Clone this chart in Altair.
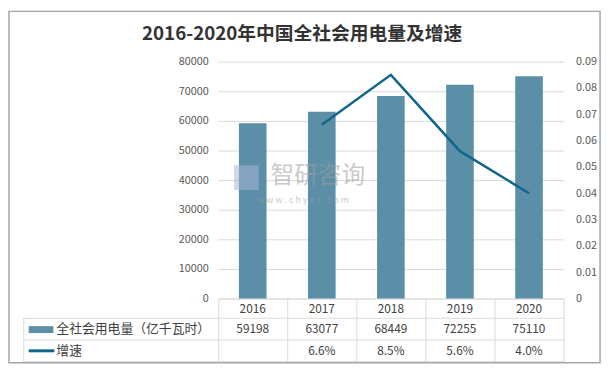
import altair as alt
import pandas as pd

years = ["2016", "2017", "2018", "2019", "2020"]
consumption = [59198, 63077, 68449, 72255, 75110]
growth = [None, 0.066, 0.085, 0.056, 0.040]
title_text = "2016-2020年中国全社会用电量及增速"
bar_label = "全社会用电量（亿千瓦时）"
line_label = "增速"
left_ticks = [0, 10000, 20000, 30000, 40000, 50000, 60000, 70000, 80000]
right_ticks = [0, 0.01, 0.02, 0.03, 0.04, 0.05, 0.06, 0.07, 0.08, 0.09]

BAR = "#5b8fa7"
LINE = "#10658a"
GRID = "#d9d9d9"
TXT = "#404040"
FONT = "Noto Sans CJK SC"

df = pd.DataFrame({"year": years, "consumption": consumption, "growth": growth})
one = pd.DataFrame({"k": [0]})

xenc = alt.X("year:N", sort=years,
             scale=alt.Scale(paddingInner=0, paddingOuter=0),
             axis=alt.Axis(title=None, labels=False, domainColor=GRID,
                           ticks=True, tickBand="extent", tickSize=64,
                           tickColor=GRID, grid=False))

bars = alt.Chart(df).mark_bar(color=BAR, size=28).encode(
    x=xenc,
    y=alt.Y("consumption:Q", scale=alt.Scale(domain=[0, 80000]),
            axis=alt.Axis(title=None, values=left_ticks, format="d", grid=True, gridColor=GRID,
                          domain=False, ticks=False, labelPadding=10,
                          labelColor="#595959", labelFontSize=11, labelFont=FONT)),
)

line = alt.Chart(df).transform_filter("datum.growth != null").mark_line(
    color=LINE, strokeWidth=2.5).encode(
    x=alt.X("year:N", sort=years),
    y=alt.Y("growth:Q", scale=alt.Scale(domain=[0, 0.09]),
            axis=alt.Axis(title=None, orient="right", values=right_ticks, grid=False,
                          domain=False, ticks=False, labelPadding=12,
                          labelExpr="datum.value == 0 ? '0' : format(datum.value, '.2f')",
                          labelColor="#595959", labelFontSize=11, labelFont=FONT)),
)

# table text rows
year_txt = alt.Chart(df).mark_text(font=FONT, fontSize=12, color=TXT, baseline="middle").encode(
    x=alt.X("year:N", sort=years), y=alt.value(251), text="year:N")
val_txt = alt.Chart(df).mark_text(font=FONT, fontSize=12, color=TXT, baseline="middle").encode(
    x=alt.X("year:N", sort=years), y=alt.value(271), text=alt.Text("consumption:Q", format="d"))
pct_txt = alt.Chart(df).transform_filter("datum.growth != null").mark_text(
    font=FONT, fontSize=12, color=TXT, baseline="middle").encode(
    x=alt.X("year:N", sort=years), y=alt.value(293), text=alt.Text("growth:Q", format=".1%"))

lab_df = pd.DataFrame({"label": [bar_label, line_label], "row": [0, 1]})
lab1 = alt.Chart(lab_df).transform_filter("datum.row == 0").mark_text(
    font=FONT, fontSize=13, color=TXT, align="left", baseline="middle").encode(
    x=alt.value(-164), y=alt.value(271), text="label:N")
lab2 = alt.Chart(lab_df).transform_filter("datum.row == 1").mark_text(
    font=FONT, fontSize=13, color=TXT, align="left", baseline="middle").encode(
    x=alt.value(-164), y=alt.value(293), text="label:N")

sw_bar = alt.Chart(one).mark_rect(color=BAR).encode(
    x=alt.value(-192), x2=alt.value(-167), y=alt.value(268), y2=alt.value(275))
sw_line = alt.Chart(one).mark_rule(color=LINE, strokeWidth=3).encode(
    x=alt.value(-192), x2=alt.value(-166), y=alt.value(293))

# table lines
h1 = alt.Chart(one).mark_rule(color=GRID).encode(x=alt.value(-197), x2=alt.value(350), y=alt.value(260))
h2 = alt.Chart(one).mark_rule(color=GRID).encode(x=alt.value(-197), x2=alt.value(350), y=alt.value(282))
h3 = alt.Chart(one).mark_rule(color=GRID).encode(x=alt.value(-197), x2=alt.value(350), y=alt.value(304))
v0 = alt.Chart(one).mark_rule(color=GRID).encode(x=alt.value(-197), y=alt.value(260), y2=alt.value(304))

# title
title = alt.Chart(pd.DataFrame({"t": [title_text]})).mark_text(
    font=FONT, fontSize=19, fontWeight="bold", color="#333333", baseline="middle").encode(
    x=alt.value(85), y=alt.value(-28), text="t:N")

# watermark
wm = pd.DataFrame({"t": ["智研咨询", "w w w . c h y x x . c o m"]})
wm1 = alt.Chart(wm).transform_filter("datum.t == '智研咨询'").mark_text(
    font=FONT, fontSize=24, color="#a0a0a0", opacity=0.55, baseline="middle").encode(
    x=alt.value(101), y=alt.value(116), text="t:N")
wm2 = alt.Chart(wm).transform_filter("datum.t != '智研咨询'").mark_text(
    font=FONT, fontSize=9, color="#a0a0a0", opacity=0.55, baseline="middle").encode(
    x=alt.value(86), y=alt.value(140), text="t:N")
wm_icon = alt.Chart(one).mark_rect(color="#a9b6d6", opacity=0.55).encode(
    x=alt.value(16), x2=alt.value(41), y=alt.value(105), y2=alt.value(130))

border = alt.Chart(one).mark_rect(filled=False, stroke="#a6a6a6", strokeWidth=1.5).encode(
    x=alt.value(-212), x2=alt.value(387), y=alt.value(-51), y2=alt.value(305))

main = alt.layer(bars, line).resolve_scale(y="independent")

chart = alt.layer(
    main, wm_icon, wm1, wm2, year_txt, val_txt, pct_txt, lab1, lab2, sw_bar, sw_line,
    h1, h2, h3, v0, title, border
).properties(
    width=350, height=240,
    padding={"left": 213, "top": 52, "right": 42, "bottom": 69},
    autosize=alt.AutoSizeParams(type="none"),
).configure_view(stroke=None)

chart.save("out.html", embed_options={"renderer": "svg", "actions": False})
